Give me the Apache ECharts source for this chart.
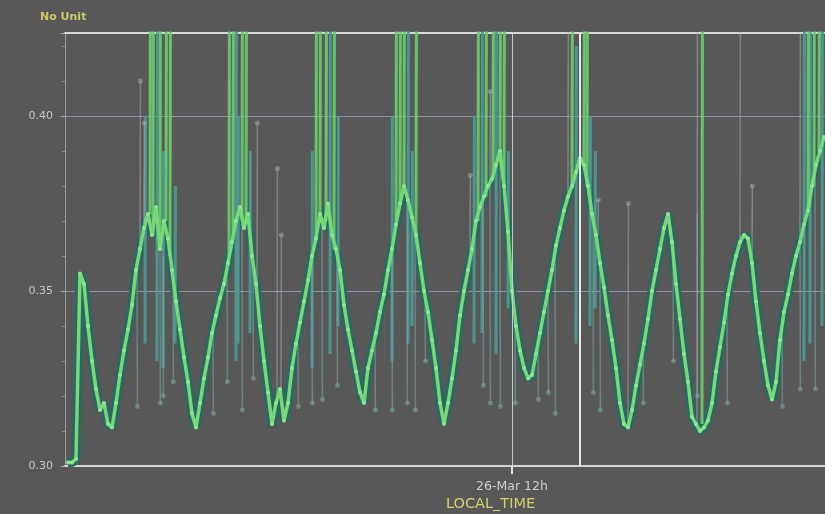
<!DOCTYPE html>
<html>
<head>
<meta charset="utf-8">
<script src="https://cdn.jsdelivr.net/npm/echarts@6/dist/echarts.min.js"></script>
<style>
html,body{margin:0;padding:0;background:#585858;}
#c{width:825px;height:514px;}
</style>
</head>
<body>
<div id="c"></div>
<script>
// Time in hours relative to 26-Mar 12h; samples every 0.2 h starting at -22.2 h
const sampleStart = -22.2;
const sampleStep = 0.2;
const mainValues = [
0.301,0.301,0.302,0.355,0.352,0.340,0.330,0.322,0.316,0.318,
0.312,0.311,0.318,0.326,0.333,0.339,0.346,0.356,0.362,0.368,
0.372,0.366,0.374,0.362,0.370,0.365,0.356,0.347,0.339,0.331,
0.324,0.315,0.311,0.318,0.325,0.331,0.338,0.343,0.348,0.352,
0.358,0.364,0.370,0.374,0.368,0.372,0.360,0.352,0.340,0.330,
0.321,0.312,0.318,0.322,0.313,0.318,0.328,0.335,0.341,0.347,
0.353,0.360,0.365,0.372,0.368,0.375,0.366,0.362,0.356,0.346,
0.339,0.333,0.327,0.321,0.318,0.328,0.333,0.338,0.344,0.349,
0.356,0.362,0.369,0.375,0.380,0.376,0.371,0.366,0.358,0.350,
0.344,0.336,0.328,0.318,0.312,0.318,0.325,0.333,0.343,0.350,
0.356,0.362,0.370,0.374,0.377,0.380,0.382,0.386,0.390,0.380,
0.367,0.350,0.340,0.333,0.328,0.325,0.326,0.332,0.338,0.344,
0.350,0.356,0.363,0.368,0.373,0.377,0.380,0.384,0.388,0.386,
0.380,0.372,0.366,0.358,0.351,0.343,0.336,0.328,0.318,0.312,
0.311,0.316,0.323,0.329,0.335,0.342,0.350,0.356,0.362,0.368,
0.372,0.364,0.352,0.342,0.332,0.324,0.314,0.312,0.310,0.311,
0.313,0.318,0.327,0.334,0.341,0.349,0.355,0.360,0.364,0.366,
0.365,0.358,0.347,0.338,0.330,0.323,0.319,0.324,0.336,0.344,
0.349,0.355,0.360,0.364,0.369,0.373,0.380,0.386,0.390,0.394
];
// Upward green spikes (most clipped at top of plot)
const upT   = [-18.1,-17.95,-17.6,-17.3,-17.1,-14.15,-13.95,-13.5,-13.3,-9.8,-9.6,-9.3,-8.9,-5.8,-5.6,-5.4,-4.8,-1.7,-1.3,-0.95,-0.6,-0.4,3.0,3.6,3.75,9.5,14.8,15.1,15.35];
const upLo  = [0.372,0.366,0.362,0.370,0.360,0.360,0.365,0.370,0.370,0.365,0.372,0.370,0.362,0.370,0.375,0.380,0.366,0.370,0.377,0.382,0.390,0.380,0.380,0.386,0.380,0.312,0.373,0.380,0.390];
const upHi  = [0.43,0.43,0.43,0.43,0.43,0.43,0.43,0.43,0.43,0.43,0.43,0.43,0.43,0.43,0.43,0.43,0.43,0.43,0.43,0.43,0.43,0.43,0.43,0.43,0.43,0.43,0.43,0.43,0.43];
// Teal spikes inside the dense peak bands
const bandT  = [-18.35,-17.75,-17.45,-16.85,-13.8,-13.7,-13.1,-10.0,-9.1,-8.7,-6.0,-5.2,-5.0,-1.9,-1.5,-0.8,-0.2,3.2,3.9,4.15,14.6,14.9,15.5];
const bandLo = [0.335,0.330,0.328,0.335,0.330,0.335,0.338,0.328,0.332,0.340,0.330,0.335,0.340,0.335,0.338,0.332,0.345,0.335,0.340,0.345,0.330,0.335,0.340];
const bandHi = [0.400,0.430,0.390,0.380,0.430,0.400,0.390,0.390,0.430,0.400,0.400,0.430,0.390,0.400,0.430,0.430,0.390,0.420,0.400,0.390,0.430,0.430,0.430];
// Grey outlier spikes with marked tips
const greyT  = [-18.6,-18.4,-12.75,-11.75,-11.55,-2.1,-1.1,2.8,4.3,5.8,9.25,11.4,12.0,14.4];
const greyLo = [0.362,0.368,0.352,0.318,0.320,0.360,0.380,0.377,0.366,0.311,0.312,0.364,0.358,0.364];
const greyHi = [0.410,0.398,0.398,0.385,0.366,0.383,0.407,0.430,0.376,0.375,0.430,0.430,0.380,0.430];
// Downward spikes with marked tips
const downT  = [-18.75,-17.6,-17.45,-16.95,-14.95,-14.25,-13.5,-12.95,-10.7,-10.0,-9.5,-8.75,-6.85,-6.0,-5.25,-4.85,-4.35,-1.45,-1.1,-0.6,0.15,1.3,1.8,2.15,4.05,4.4,6.55,8.05,9.25,10.75,13.5,14.4,15.15];
const downHi = [0.356,0.362,0.360,0.356,0.338,0.358,0.370,0.360,0.335,0.360,0.370,0.360,0.338,0.362,0.376,0.366,0.350,0.377,0.380,0.390,0.345,0.335,0.350,0.360,0.372,0.358,0.335,0.364,0.372,0.345,0.340,0.364,0.380];
const downLo = [0.317,0.318,0.320,0.324,0.315,0.324,0.316,0.325,0.317,0.318,0.319,0.323,0.316,0.316,0.318,0.316,0.330,0.323,0.318,0.317,0.318,0.319,0.321,0.315,0.321,0.316,0.318,0.330,0.320,0.318,0.317,0.322,0.322];
const xTickValues = [0];
const xTickLabels = ['26-Mar 12h'];
const cursorLines = [0, 3.4];
const yMin = 0.30, yMax = 0.4237;

const mainData = mainValues.map((v, i) => [+(sampleStart + i * sampleStep).toFixed(2), v]);
const mkLines = (T, A, B) => T.map((t, i) => ({coords: [[t, A[i]], [t + 0.02, B[i]]]}));

const chart = echarts.init(document.getElementById('c'));
chart.setOption({
  backgroundColor: '#585858',
  animation: false,
  grid: {left: 65, right: 0, top: 33, bottom: 48},
  xAxis: [{
    type: 'value', min: -22.35, max: 15.65,
    axisLine: {show: true, onZero: false, lineStyle: {color: '#d4d4d4', width: 2}},
    axisTick: {show: true, customValues: xTickValues, length: 8, lineStyle: {color: '#e0e0e0', width: 2}},
    axisLabel: {show: true, customValues: xTickValues, margin: 14, color: '#cfcfcf', fontSize: 12.5, fontFamily: 'DejaVu Sans',
      formatter: v => xTickLabels[xTickValues.indexOf(v)] || ''},
    splitLine: {show: false}
  }, {
    type: 'value', min: -22.35, max: 15.65, position: 'top',
    axisLine: {show: true, onZero: false, lineStyle: {color: '#d8d8d8', width: 2}},
    axisTick: {show: false}, axisLabel: {show: false}, splitLine: {show: false}
  }],
  yAxis: {
    type: 'value', min: yMin, max: yMax, interval: 0.05,
    axisLine: {show: true, onZero: false, lineStyle: {color: '#9aa0a0', width: 1}},
    axisTick: {show: true, length: 4, lineStyle: {color: '#a8a8a8'}},
    minorTick: {show: true, splitNumber: 5, length: 3, lineStyle: {color: '#8a9090'}},
    axisLabel: {color: '#c4c8c8', fontSize: 11, margin: 12, fontFamily: 'DejaVu Sans', showMaxLabel: false,
      formatter: v => v.toFixed(2)},
    splitLine: {show: true, lineStyle: {color: '#9090a8', width: 1}}
  },
  graphic: [
    {type: 'text', left: 40, top: 12, style: {text: 'No Unit', fill: '#cccc66', font: 'bold 11px DejaVu Sans'}},
    {type: 'text', left: 446, top: 497, style: {text: 'LOCAL_TIME', fill: '#d2d26a', font: '14.5px DejaVu Sans'}}
  ],
  series: [
    {type: 'line', data: mainData, symbol: 'none', silent: true,
      lineStyle: {color: '#2a6864', width: 9}, itemStyle: {color: '#2a6864'}, z: 1,
      markLine: {silent: true, symbol: 'none', label: {show: false},
        lineStyle: {color: '#c8c8d0', width: 1, type: 'solid'},
        data: [{xAxis: cursorLines[0]}, {xAxis: cursorLines[1], lineStyle: {color: '#e8e8e8', width: 2}}]}},
    {type: 'lines', coordinateSystem: 'cartesian2d', data: mkLines(bandT, bandLo, bandHi), clip: true,
      lineStyle: {color: '#4c9c96', width: 3, opacity: 0.9}, symbol: 'none', z: 2},
    {type: 'lines', coordinateSystem: 'cartesian2d', data: mkLines(upT, upLo, upHi), clip: true,
      lineStyle: {color: '#6ccf70', width: 3, opacity: 0.9}, symbol: 'none', z: 2},
    {type: 'lines', coordinateSystem: 'cartesian2d', data: mkLines(greyT, greyLo, greyHi), clip: true,
      lineStyle: {color: '#a8b0b4', width: 1.5}, symbol: ['none', 'circle'], symbolSize: 5, z: 3},
    {type: 'lines', coordinateSystem: 'cartesian2d', data: mkLines(downT, downHi, downLo), clip: true,
      lineStyle: {color: '#7fb0a8', width: 1.5}, symbol: ['none', 'circle'], symbolSize: 5, z: 3},
    {type: 'line', data: mainData, symbol: 'circle', symbolSize: 4, showSymbol: true,
      itemStyle: {color: '#8ee68e'}, lineStyle: {color: '#78d878', width: 3.5}, z: 4}
  ]
});
</script>
</body>
</html>
